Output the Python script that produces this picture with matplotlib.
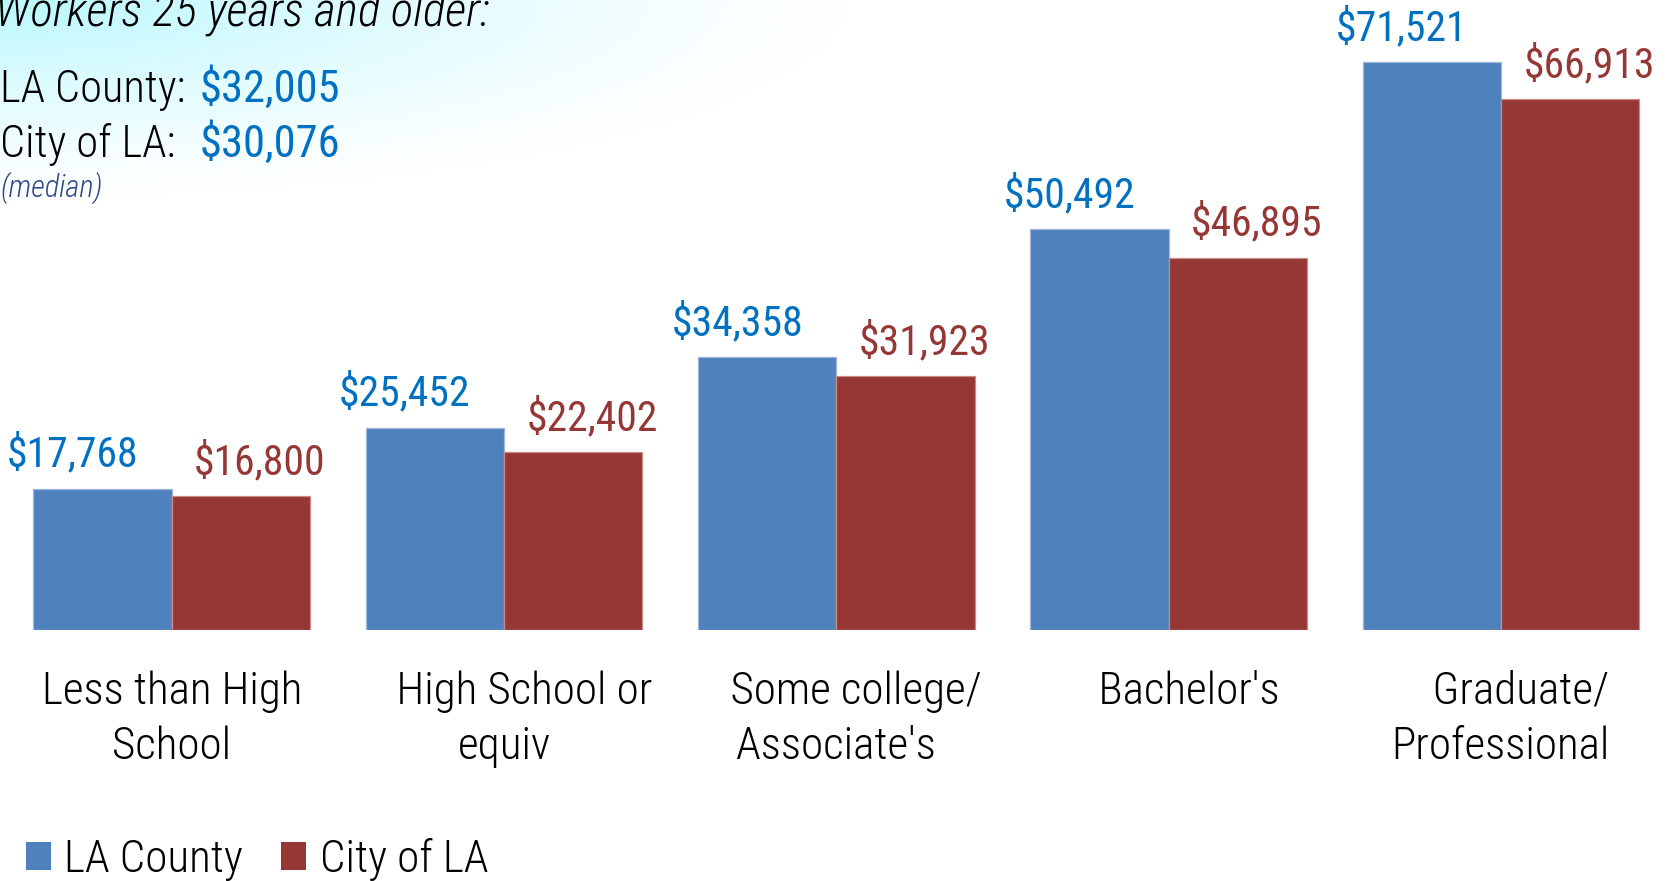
import numpy as np
import matplotlib
matplotlib.use("Agg")
import matplotlib.pyplot as plt
from matplotlib import font_manager
from matplotlib.patches import Patch
import matplotlib.transforms as mtransforms

# ---------------- data ----------------
categories = ["Less than High\nSchool", "    High School or\nequiv",
              "    Some college/\nAssociate's", "    Bachelor's",
              "    Graduate/\nProfessional"]
la_county = [17768, 25452, 34358, 50492, 71521]
city_of_la = [16800, 22402, 31923, 46895, 66913]
series_names = ["LA County", "City of LA"]
subtitle = "Workers 25 years and older:"
median_county = 32005
median_city = 30076
median_note = "(median)"

# ---------------- style ----------------
bar_colors = ["#4F81BD", "#953735"]
edge_colors = ["#9DB7DA", "#C98A88"]
label_colors = ["#0070C0", "#953735"]

available = {f.name for f in font_manager.fontManager.ttflist}
family = "DejaVu Sans"
for cand in ["Liberation Sans Narrow", "Arial Narrow", "Roboto Condensed",
             "Open Sans Condensed", "DejaVu Sans Condensed", "Liberation Sans"]:
    if cand in available:
        family = cand
        break
plt.rcParams["font.family"] = [family, "DejaVu Sans"]
thin = "light"

W, H, DPI = 1670, 881, 100
fig = plt.figure(figsize=(W / DPI, H / DPI), dpi=DPI)
fig.patch.set_facecolor("white")

# soft cyan glow in the top-left corner
yy, xx = np.mgrid[0:H, 0:W]
r = np.sqrt((xx / 860.0) ** 2 + (yy / 200.0) ** 2)
alpha = np.clip(1 - r, 0, 1) ** 1.3 * 0.9
bg = np.zeros((H, W, 4))
bg[..., 0] = 0.70
bg[..., 1] = 0.97
bg[..., 2] = 1.0
bg[..., 3] = alpha
fig.figimage(bg, xo=0, yo=0, origin="upper", zorder=-5)

# main axes: baseline at y=629.5 px from top
base_px = 629.5
ax = fig.add_axes([0, (H - base_px) / H, 1, base_px / H])
ax.set_facecolor("none")
ax.set_ylim(0, base_px / 0.00793)
ax.set_xlim(-0.5167, 4.509)
ax.axis("off")

x = np.arange(len(categories))
bw = 0.4162
b1 = ax.bar(x - bw / 2, la_county, bw, color=bar_colors[0],
            edgecolor=edge_colors[0], linewidth=0.9)
b2 = ax.bar(x + bw / 2, city_of_la, bw, color=bar_colors[1],
            edgecolor=edge_colors[1], linewidth=0.9)

px = 0.72  # points per pixel at 100 dpi
for bars, vals, col, dx in [(b1, la_county, label_colors[0], -30),
                            (b2, city_of_la, label_colors[1], 19)]:
    for rect, v in zip(bars, vals):
        ax.annotate(f"${v:,}", xy=(rect.get_x() + rect.get_width() / 2, v),
                    xytext=(dx * px, 22 * px), textcoords="offset points",
                    ha="center", va="baseline", fontsize=30, color=col)

# category labels (line by line)
blend = mtransforms.blended_transform_factory(ax.transData, fig.transFigure)
for xi, lab in zip(x, categories):
    for li, line in enumerate(lab.split("\n")):
        ax.text(xi, 1 - (704 + 55 * li) / H, line, transform=blend,
                ha="center", va="baseline", fontsize=32.5, color="black",
                fontweight=thin)

# top-left text block
fig.text(490 / W, 1 - 25 / H, subtitle, ha="right", va="baseline",
         fontsize=34, style="italic", color="black", fontweight=thin)
fig.text(0 / W, 1 - 102 / H, "LA County:", ha="left", va="baseline",
         fontsize=32, color="black", fontweight=thin)
fig.text(200 / W, 1 - 102 / H, f"${median_county:,}", ha="left", va="baseline",
         fontsize=32, color=label_colors[0])
fig.text(0 / W, 1 - 157 / H, "City of LA:", ha="left", va="baseline",
         fontsize=32, color="black", fontweight=thin)
fig.text(200 / W, 1 - 157 / H, f"${median_city:,}", ha="left", va="baseline",
         fontsize=32, color=label_colors[0])
fig.text(0 / W, 1 - 197 / H, median_note, ha="left", va="baseline",
         fontsize=22, style="italic", color="#2E4A8C", fontweight=thin)

# legend
handles = [Patch(facecolor=c, edgecolor="none") for c in bar_colors]
fig.legend(handles, series_names, loc="lower left",
           bbox_to_anchor=(26 / W, 0.0), frameon=False, ncol=2,
           prop={"size": 32.5, "weight": thin},
           handlelength=0.55, handleheight=0.55,
           handletextpad=0.3, columnspacing=0.85, borderpad=0,
           borderaxespad=0)

fig.savefig("out.png", dpi=DPI)
